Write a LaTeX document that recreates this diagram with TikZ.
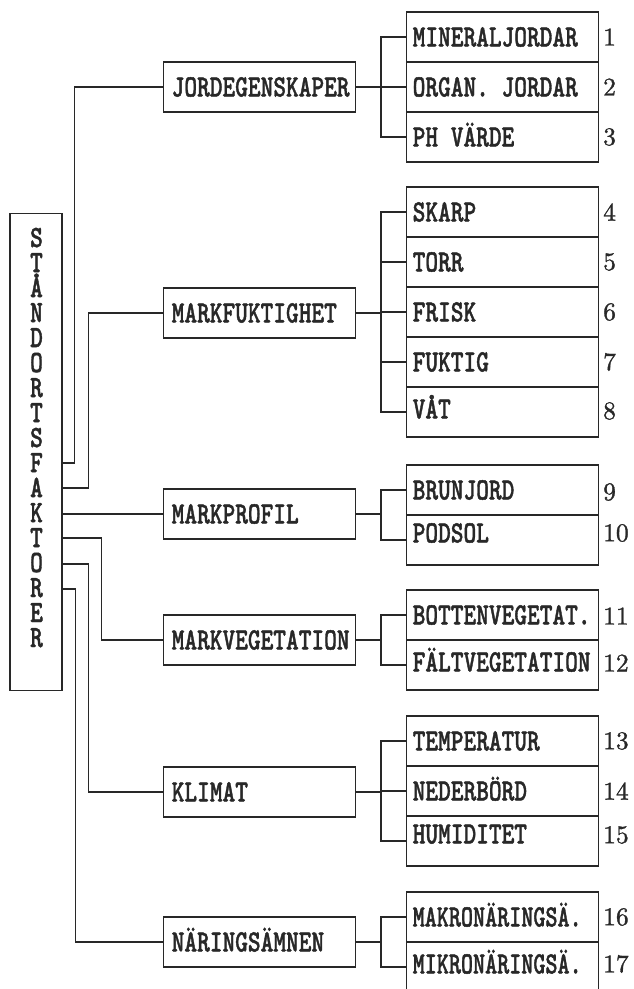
\documentclass[tikz,border=0pt]{standalone}
\usetikzlibrary{calc}
\definecolor{ink}{RGB}{40,40,40}
\font\monob="[lmmonolt10-bold]:embolden=1.5" at 24.2pt
\font\numf="[lmroman10-regular]:embolden=1.2" at 25.5pt
\newcommand\mtxt[2][1]{\scalebox{#1}[1.28]{\monob #2}}
\newcommand\stackletters[1]{\scalebox{1}[1.28]{\vbox{\monob\baselineskip=19.53pt\lineskiplimit=-100pt\lineskip=0pt
  \halign{\hfil##\hfil\cr #1}}}}
\tikzset{
  ln/.style={draw=ink, line width=1.4pt},
  midbox/.style={draw=ink, line width=1.4pt, rectangle, anchor=west, minimum height=50pt,
    text width=176pt, inner xsep=8pt, inner ysep=0pt, align=left,
    text height=18.9pt, text depth=0pt, text=ink},
  kidbox/.style={draw=ink, line width=1.4pt, rectangle, anchor=west, minimum height=50pt,
    text width=180pt, inner xsep=6pt, inner ysep=0pt, align=left,
    text height=18.9pt, text depth=0pt, text=ink},
  num/.style={anchor=west, inner sep=0pt, text=ink, font=\numf}
}
\begin{document}
\begin{tikzpicture}[x=1pt,y=-1pt]
\useasboundingbox (0,0) rectangle (633,989);
\clip (0,0) rectangle (633,989);

% left box
\node[draw=ink, line width=1.4pt, minimum width=52pt, minimum height=477pt, anchor=north, inner sep=0pt] (sf) at (36,213) {};
\node[anchor=base, inner sep=0pt, text=ink] (sftext) at (36.5,647)
  {\stackletters{S\cr T\cr Å\cr N\cr D\cr O\cr R\cr T\cr S\cr F\cr A\cr K\cr T\cr O\cr R\cr E\cr R\cr}};

% middle boxes
\node[midbox] (jord) at (163,87)  {\mtxt{JORDEGENSKAPER}};
\node[midbox] (fukt) at (163,313) {\mtxt{MARKFUKTIGHET}};
\node[midbox] (prof) at (163,514) {\mtxt{MARKPROFIL}};
\node[midbox] (veg)  at (163,640) {\mtxt{MARKVEGETATION}};
\node[midbox] (klim) at (163,792) {\mtxt{KLIMAT}};
\node[midbox] (nar)  at (163,942) {\mtxt{NÄRINGSÄMNEN}};

% child boxes
\node[kidbox] (c1)  at (406,37)  {\mtxt{MINERALJORDAR}};
\node[kidbox] (c2)  at (406,87)  {\mtxt{ORGAN.\hspace{12.7pt}JORDAR}};
\node[kidbox] (c3)  at (406,137) {\mtxt{PH\hspace{12.7pt}VÄRDE}};
\node[kidbox] (c4)  at (406,212) {\mtxt{SKARP}};
\node[kidbox] (c5)  at (406,262) {\mtxt{TORR}};
\node[kidbox] (c6)  at (406,312) {\mtxt{FRISK}};
\node[kidbox] (c7)  at (406,362) {\mtxt{FUKTIG}};
\node[kidbox] (c8)  at (406,412) {\raisebox{3pt}{\mtxt{VÅT}}};
\node[kidbox] (c9)  at (406,490) {\mtxt{BRUNJORD}};
\node[kidbox] (c10) at (406,540) {\raisebox{7pt}{\mtxt{PODSOL}}};
\node[kidbox] (c11) at (406,615) {\mtxt{BOTTENVEGETAT.}};
\node[kidbox] (c12) at (406,665) {\raisebox{3pt}{\mtxt{FÄLTVEGETATION}}};
\node[kidbox] (c13) at (406,741) {\mtxt{TEMPERATUR}};
\node[kidbox] (c14) at (406,791) {\mtxt{NEDERBÖRD}};
\node[kidbox] (c15) at (406,841) {\raisebox{7pt}{\mtxt{HUMIDITET}}};
\node[kidbox] (c16) at (406,917) {\mtxt[0.95]{MAKRONÄRINGSÄ.}};
\node[kidbox] (c17) at (406,967) {\raisebox{3pt}{\mtxt[0.95]{MIKRONÄRINGSÄ.}}};

% numbers
\node[num] (n1)  at (603,37)  {1};
\node[num] (n2)  at (603,87)  {2};
\node[num] (n3)  at (603,137) {3};
\node[num] (n4)  at (603,212) {4};
\node[num] (n5)  at (603,262) {5};
\node[num] (n6)  at (603,312) {6};
\node[num] (n7)  at (603,362) {7};
\node[num] (n8)  at (603,411) {8};
\node[num] (n9)  at (603,492) {9};
\node[num] (n10) at (603,533) {10};
\node[num] (n11) at (603,616) {11};
\node[num] (n12) at (603,663) {12};
\node[num] (n13) at (603,741) {13};
\node[num] (n14) at (603,791) {14};
\node[num] (n15) at (603,835) {15};
\node[num] (n16) at (603,917) {16};
\node[num] (n17) at (603,964) {17};

% left connectors
\draw[ln] ([yshift=-250pt]sf.north east) -- ++(12,0) |- (jord.west);
\draw[ln] ([yshift=-275pt]sf.north east) -- ++(26,0) |- (fukt.west);
\draw[ln] (sf.east |- prof.west) -- (prof.west);
\draw[ln] ([yshift=-325pt]sf.north east) -- ++(39,0) |- (veg.west);
\draw[ln] ([yshift=-351pt]sf.north east) -- ++(26,0) |- (klim.west);
\draw[ln] ([yshift=-376pt]sf.north east) -- ++(13,0) |- (nar.west);

% right brackets
\draw[ln] (jord.east) -- ++(26,0);
\draw[ln] (c1.west) -- ++(-25,0) |- (c3.west);
\draw[ln] (c2.west) -- ++(-25,0);

\draw[ln] (fukt.east) -- ++(26,0);
\draw[ln] (c4.west) -- ++(-25,0) |- (c8.west);
\draw[ln] (c5.west) -- ++(-25,0);
\draw[ln] (c6.west) -- ++(-25,0);
\draw[ln] (c7.west) -- ++(-25,0);

\draw[ln] (prof.east) -- ++(26,0);
\draw[ln] (c9.west) -- ++(-25,0) |- (c10.west);

\draw[ln] (veg.east) -- ++(26,0);
\draw[ln] (c11.west) -- ++(-25,0) |- (c12.west);

\draw[ln] (klim.east) -- ++(26,0);
\draw[ln] (c13.west) -- ++(-25,0) |- (c15.west);
\draw[ln] (c14.west) -- ++(-25,0);

\draw[ln] (nar.east) -- ++(26,0);
\draw[ln] (c16.west) -- ++(-25,0) |- (c17.west);
\end{tikzpicture}
\end{document}
